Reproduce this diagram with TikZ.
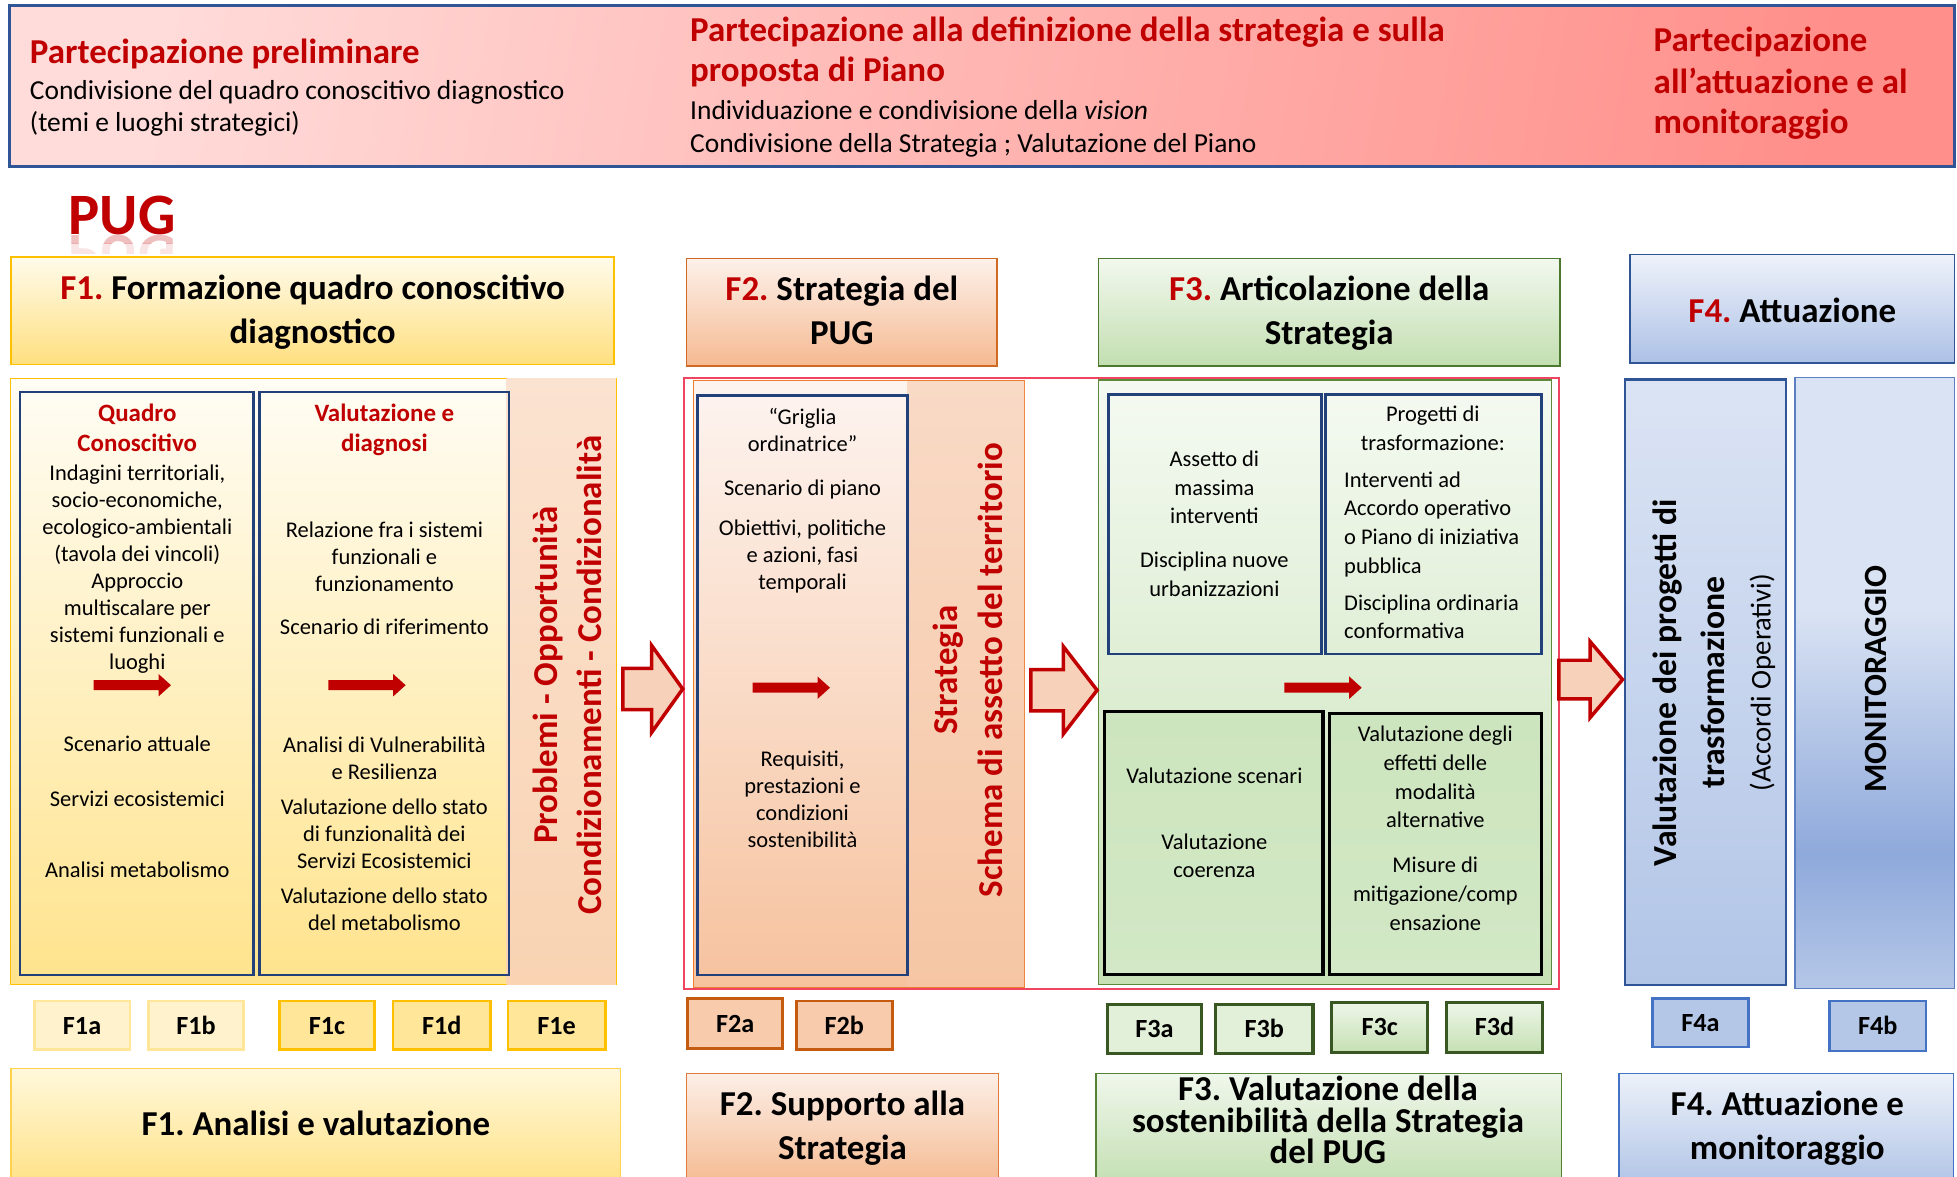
\documentclass[tikz,border=0pt]{standalone}
\usepackage{fontspec}
\setmainfont{Carlito}
\usetikzlibrary{fit}
\definecolor{dred}{HTML}{C00000}
\definecolor{bannerL}{HTML}{FFDCDA}
\definecolor{bannerR}{HTML}{FF8F8A}
\definecolor{bannerB}{HTML}{2F5597}
\definecolor{gold}{HTML}{FFC000}
\definecolor{f1hT}{HTML}{FFFBEB}
\definecolor{f1hB}{HTML}{FFDF7F}
\definecolor{c1T}{HTML}{FFFDF5}
\definecolor{c1B}{HTML}{FFE38C}
\definecolor{s1T}{HTML}{FBE3D1}
\definecolor{s1B}{HTML}{F9D3B2}
\definecolor{dblue}{HTML}{22407A}
\definecolor{h2T}{HTML}{FDF1EA}
\definecolor{h2B}{HTML}{F5BA92}
\definecolor{h2D}{HTML}{D06A22}
\definecolor{c2T}{HTML}{FDF4F0}
\definecolor{c2B}{HTML}{F6C29E}
\definecolor{c2D}{HTML}{ED7D31}
\definecolor{s2T}{HTML}{F9DAC6}
\definecolor{s2B}{HTML}{F6C6A4}
\definecolor{h3T}{HTML}{F2F8EE}
\definecolor{h3B}{HTML}{C3DFB1}
\definecolor{h3D}{HTML}{4B7A2E}
\definecolor{c3T}{HTML}{F5FAF2}
\definecolor{c3B}{HTML}{C7E1B5}
\definecolor{c3D}{HTML}{5A8A3A}
\definecolor{cdT}{HTML}{CDE5BE}
\definecolor{cdB}{HTML}{D2E8C6}
\definecolor{redR}{HTML}{EF4560}
\definecolor{arrfill}{HTML}{F8D1BA}
\definecolor{h4T}{HTML}{EEF2FA}
\definecolor{h4B}{HTML}{ADC1E6}
\definecolor{f4D}{HTML}{2F5597}
\definecolor{f4aT}{HTML}{DBE4F4}
\definecolor{f4aB}{HTML}{B2C5E7}
\definecolor{f4bD}{HTML}{5B7FC2}
\definecolor{m1}{HTML}{DAE3F3}
\definecolor{m2}{HTML}{8EA9DB}
\definecolor{m3}{HTML}{B5C7E8}
\definecolor{l1F}{HTML}{FFF2CC}
\definecolor{l1D}{HTML}{FFE699}
\definecolor{l2F}{HTML}{FFE699}
\definecolor{l3F}{HTML}{F8CBAD}
\definecolor{l3D}{HTML}{C55A11}
\definecolor{l4F}{HTML}{E2F0D9}
\definecolor{l4D}{HTML}{385723}
\definecolor{l4T}{HTML}{EEF6E8}
\definecolor{l4B}{HTML}{C5E0B4}
\definecolor{l5F}{HTML}{B4C7E7}
\definecolor{l5D}{HTML}{4472C4}
\definecolor{b1T}{HTML}{FFF8DB}
\definecolor{b1B}{HTML}{FFE289}
\definecolor{b1D}{HTML}{FFD24D}
\definecolor{b2T}{HTML}{FCEFE7}
\definecolor{b2B}{HTML}{F5BC94}
\definecolor{b2D}{HTML}{E07B39}
\definecolor{b3T}{HTML}{F0F7EC}
\definecolor{b3B}{HTML}{C5E0B4}
\definecolor{b3D}{HTML}{548235}
\definecolor{b4T}{HTML}{EDF1F9}
\definecolor{b4B}{HTML}{B3C6E7}
\definecolor{b4D}{HTML}{4472C4}
\pgfdeclareverticalshading{monshade}{100bp}{color(0bp)=(m3); color(25bp)=(m3); color(36bp)=(m2); color(56bp)=(m1); color(75bp)=(m1); color(100bp)=(m1)}
\begin{document}
\lineskiplimit=-100pt
\frenchspacing
\begin{tikzpicture}[x=1pt,y=-1pt,
  bx/.style={inner sep=0pt, outer sep=0pt},
  sst/.style={execute at begin node=\strut, execute at end node=\strut},
  hdr/.style={bx, sst, font=\fontsize{28}{35}\selectfont\bfseries, align=center},
  hdrs/.style={hdr, yshift=-4pt},
  btitle/.style={bx, font=\fontsize{28}{33}\selectfont\bfseries, text=dred},
  bbody/.style={bx, font=\fontsize{22}{26}\selectfont},
  bt/.style={bx, sst, font=\fontsize{18}{21.6}\selectfont, align=center},
  bt23/.style={bx, sst, font=\fontsize{18}{23}\selectfont, align=center},
  btl/.style={bx, sst, font=\fontsize{18}{23}\selectfont, align=left, anchor=west},
  rtitle/.style={bx, sst, font=\fontsize{20}{24}\selectfont\bfseries, text=dred, align=center},
  vt/.style={bx, sst, font=\fontsize{28}{35}\selectfont\bfseries, text=dred, align=center, rotate=90},
  inbox/.style={bx, draw=dblue, line width=2pt},
  kbox/.style={bx, draw=black, line width=2.5pt, top color=cdT, bottom color=cdB},
  lab/.style={bx, line width=2pt},
  labt/.style={bx, sst, font=\fontsize{21}{25}\selectfont\bfseries, yshift=-2pt},
  blockarr/.style={draw=dred, line width=2.8pt, fill=arrfill, line join=miter},
  pugst/.style={bx, font=\fontsize{47}{50}\selectfont\bfseries, text=dred},
  redarrow/.pic={\fill[dred] (0,-4) -- (52,-4) -- (52,-9) -- (62,0) -- (52,9) -- (52,4) -- (0,4) -- cycle;}
]
\useasboundingbox (0,0) rectangle (1568,943);
\clip (0,0) rectangle (1568,943);

% ---------- top banner ----------
\node[bx, fit={(7.5,4.5)(1566,133.5)}, draw=bannerB, line width=2.5pt, top color=bannerL, bottom color=bannerR, shading angle=80] (banner) {};
\node[btitle, anchor=base west] (bp1) at (24,51) {Partecipazione preliminare};
\node[bbody, anchor=base west] (bp1a) at (24,80) {Condivisione del quadro conoscitivo diagnostico};
\node[bbody, anchor=base west] (bp1b) at (24,105) {(temi e luoghi strategici)};
\node[btitle, anchor=base west] (bp2) at (553,33) {Partecipazione alla definizione della strategia e sulla};
\node[btitle, anchor=base west] (bp2b) at (553,65.5) {proposta di Piano};
\node[bbody, anchor=base west] (bp2c) at (553,96) {Individuazione e condivisione della \textit{vision}};
\node[bbody, anchor=base west] (bp2d) at (553,122) {Condivisione della Strategia ; Valutazione del Piano};
\node[btitle, anchor=base west] (bp3) at (1325,41.5) {Partecipazione};
\node[btitle, anchor=base west] (bp3b) at (1325,75) {all’attuazione e al};
\node[btitle, anchor=base west] (bp3c) at (1325,107) {monitoraggio};

% ---------- PUG ----------
\node[pugst, anchor=base west] (pug) at (55,188) {PUG};
\begin{scope}
\clip (40,188.5) rectangle (160,195);
\node[pugst, yscale=-1, opacity=0.25, anchor=base west] (pugr1) at (55,188.5) {PUG};
\end{scope}
\begin{scope}
\clip (40,195) rectangle (160,203);
\node[pugst, yscale=-1, opacity=0.1, anchor=base west] (pugr2) at (55,188.5) {PUG};
\end{scope}

% ---------- headers ----------
\node[bx, fit={(9,206)(492,292)}, draw=gold, line width=1.5pt, top color=f1hT, bottom color=f1hB] (h1) {};
\node[hdrs] (h1t) at (h1) {\textcolor{dred}{F1.} Formazione quadro conoscitivo\\diagnostico};
\node[bx, fit={(550,207)(799,293)}, draw=h2D, line width=1.3pt, top color=h2T, bottom color=h2B] (h2) {};
\node[hdrs] (h2t) at (h2) {\textcolor{dred}{F2.} Strategia del\\PUG};
\node[bx, fit={(880,207)(1250,293)}, draw=h3D, line width=1.3pt, top color=h3T, bottom color=h3B] (h3) {};
\node[hdrs] (h3t) at (h3) {\textcolor{dred}{F3.} Articolazione della\\Strategia};
\node[bx, fit={(1306,204)(1566,291)}, draw=f4D, line width=1.3pt, top color=h4T, bottom color=h4B] (h4) {};
\node[hdrs] (h4t) at (h4) {\textcolor{dred}{F4.} Attuazione};

% ---------- F1 container ----------
\node[bx, fit={(8.5,303)(494,789)}, draw=gold, line width=1pt, top color=c1T, bottom color=c1B] (c1) {};
\node[bx, fit={(406,303.5)(493.5,788.5)}, top color=s1T, bottom color=s1B] (s1) {};
\node[inbox, fit={(16,314)(203,781)}] (q1) {};
\node[inbox, fit={(208,314)(408,781)}] (q2) {};

\node[rtitle] (q1t) at (110,346) {Quadro\\Conoscitivo};
\node[bt] (q1x) at (110,457.5) {Indagini territoriali,\\socio-economiche,\\ecologico-ambientali\\(tavola dei vincoli)\\Approccio\\multiscalare per\\sistemi funzionali e\\luoghi};
\pic at (75,549) {redarrow};
\node[bt] (q1s) at (110,598) {Scenario attuale};
\node[bt] (q1e) at (110,642) {Servizi ecosistemici};
\node[bt] (q1m) at (110,699) {Analisi metabolismo};

\node[rtitle] (q2t) at (308,346) {Valutazione e\\diagnosi};
\node[bt] (q2a) at (308,449) {Relazione fra i sistemi\\funzionali e\\funzionamento};
\node[bt] (q2b) at (308,504) {Scenario di riferimento};
\pic at (263,549) {redarrow};
\node[bt] (q2c) at (308,611) {Analisi di Vulnerabilità\\e Resilienza};
\node[bt] (q2d) at (308,671) {Valutazione dello stato\\di funzionalità dei\\Servizi Ecosistemici};
\node[bt] (q2e) at (308,731.5) {Valutazione dello stato\\del metabolismo};

\node[vt] (pc) at (460,541) {Problemi - Opportunità\\Condizionamenti - Condizionalità};

% ---------- F2 container ----------
\node[bx, fit={(556,305)(821,791)}, draw=c2D, line width=0.8pt, top color=c2T, bottom color=c2B] (c2) {};
\node[bx, fit={(727,305.5)(820.5,790.5)}, top color=s2T, bottom color=s2B] (s2) {};
\node[inbox, fit={(559,317)(727,781)}] (g1) {};
\node[bt] (g1a) at (643,347.5) {“Griglia\\ordinatrice”};
\node[bt] (g1b) at (643,393) {Scenario di piano};
\node[bt] (g1c) at (643,447.5) {Obiettivi, politiche\\e azioni, fasi\\temporali};
\pic at (603,551) {redarrow};
\node[bt] (g1d) at (643,643.5) {Requisiti,\\prestazioni e\\condizioni\\sostenibilità};
\node[vt, font=\fontsize{28}{36}\selectfont\bfseries] (st) at (780.5,537) {Strategia\\Schema di assetto del territorio};

% ---------- F3 container ----------
\node[bx, fit={(880,304.5)(1243,789)}, draw=c3D, line width=1pt, top color=c3T, bottom color=c3B] (c3) {};
\node[inbox, fit={(888,316)(1059,524)}] (ba) {};
\node[inbox, fit={(1062,316)(1235,524)}] (bb) {};
\node[kbox, fit={(885,570)(1060,781)}] (bc) {};
\node[kbox, fit={(1065,572)(1235,781)}] (bd) {};
\node[bt23] (bat1) at (973,394) {Assetto di\\massima\\interventi};
\node[bt23] (bat2) at (973,463.5) {Disciplina nuove\\urbanizzazioni};
\node[bt23] (bbt1) at (1148,346.5) {Progetti di\\trasformazione:};
\node[btl] (bbt2) at (1077,422) {Interventi ad\\Accordo operativo\\o Piano di iniziativa\\pubblica};
\node[btl] (bbt3) at (1077,497.5) {Disciplina ordinaria\\conformativa};
\pic at (1029,551) {redarrow};
\node[bt23] (bct1) at (973,623) {Valutazione scenari};
\node[bt23] (bct2) at (973,689) {Valutazione\\coerenza};
\node[bt23] (bdt1) at (1150,626) {Valutazione degli\\effetti delle\\modalità\\alternative};
\node[bt23] (bdt2) at (1150,719.5) {Misure di\\mitigazione/comp\\ensazione};

% ---------- red frame around F2-F3 ----------
\node[bx, fit={(548,302.5)(1249,792)}, draw=redR, line width=1.6pt] (rr) {};

% ---------- F4 ----------
\node[bx, fit={(1302,304)(1431,789)}, draw=f4D, line width=2pt, top color=f4aT, bottom color=f4aB] (f4a) {};
\node[bx, fit={(1438,302.5)(1566,792)}, draw=f4bD, line width=1.5pt, shade, shading=monshade] (f4b) {};
\node[bx, sst, rotate=90, font=\fontsize{27}{33}\selectfont\bfseries] (v1) at (1337,547) {Valutazione dei progetti di};
\node[bx, sst, rotate=90, font=\fontsize{27}{33}\selectfont\bfseries] (v2) at (1375,547) {trasformazione};
\node[bx, sst, rotate=90, font=\fontsize{23}{28}\selectfont] (v3) at (1413,547) {(Accordi Operativi)};
\node[bx, sst, rotate=90, font=\fontsize{26}{31}\selectfont\bfseries] (mon) at (1505,544) {MONITORAGGIO};

% ---------- block arrows ----------
\path[blockarr] (499,535.5) -- (522,535.5) -- (522,517) -- (547,552) -- (522,587) -- (522,568.5) -- (499,568.5) -- cycle;
\path[blockarr] (826,536.5) -- (852,536.5) -- (852,518) -- (879,553) -- (852,588) -- (852,569.5) -- (826,569.5) -- cycle;
\path[blockarr] (1249,529) -- (1274,529) -- (1274,514) -- (1300,544.5) -- (1274,575) -- (1274,560) -- (1249,560) -- cycle;

% ---------- labels ----------
\node[lab, fit={(27.5,802)(104,841)}, fill=l1F, draw=l1D] (f1a) {};
\node[labt] at (f1a) {F1a};
\node[lab, fit={(119,802)(195,841)}, fill=l1F, draw=l1D] (f1b) {};
\node[labt] at (f1b) {F1b};
\node[lab, fit={(224,802)(300,841)}, fill=l2F, draw=gold] (f1c) {};
\node[labt] at (f1c) {F1c};
\node[lab, fit={(315,802)(393,841)}, fill=l2F, draw=gold] (f1d) {};
\node[labt] at (f1d) {F1d};
\node[lab, fit={(407,802)(485,841)}, fill=l2F, draw=gold] (f1e) {};
\node[labt] at (f1e) {F1e};
\node[lab, fit={(551,800)(627,840)}, fill=l3F, draw=l3D] (f2a) {};
\node[labt] at (f2a) {F2a};
\node[lab, fit={(638,802)(715,841)}, fill=l3F, draw=l3D] (f2b) {};
\node[labt] at (f2b) {F2b};
\node[lab, fit={(887,805)(963,844)}, fill=l4F, draw=l4D, line width=2.5pt] (f3a) {};
\node[labt] at (f3a) {F3a};
\node[lab, fit={(974,805)(1052,844)}, fill=l4F, draw=l4D, line width=2.5pt] (f3b) {};
\node[labt] at (f3b) {F3b};
\node[lab, fit={(1067,803)(1144,843)}, top color=l4T, bottom color=l4B, draw=l4D, line width=2.5pt] (f3c) {};
\node[labt] at (f3c) {F3c};
\node[lab, fit={(1159,803)(1236,843)}, top color=l4T, bottom color=l4B, draw=l4D, line width=2.5pt] (f3d) {};
\node[labt] at (f3d) {F3d};
\node[lab, fit={(1324,800)(1401,839)}, fill=l5F, draw=l5D] (f4la) {};
\node[labt] at (f4la) {F4a};
\node[lab, fit={(1466,802)(1543,842)}, fill=l5F, draw=l5D] (f4lb) {};
\node[labt] at (f4lb) {F4b};

% ---------- bottom boxes ----------
\node[bx, fit={(9,856)(497,946)}, draw=b1D, line width=1.2pt, top color=b1T, bottom color=b1B] (bb1) {};
\node[hdr] (bb1t) at (253,903) {F1. Analisi e valutazione};
\node[bx, fit={(550,860)(800,946)}, draw=b2D, line width=1.2pt, top color=b2T, bottom color=b2B] (bb2) {};
\node[hdr] (bb2t) at (675,907) {F2. Supporto alla\\Strategia};
\node[bx, fit={(878,860)(1251,946)}, draw=b3D, line width=1.2pt, top color=b3T, bottom color=b3B] (bb3) {};
\node[hdr, font=\fontsize{28}{25.5}\selectfont\bfseries] (bb3t) at (1064,901) {F3. Valutazione della\\sostenibilità della Strategia\\del PUG};
\node[bx, fit={(1297,860)(1565,946)}, draw=b4D, line width=1.2pt, top color=b4T, bottom color=b4B] (bb4) {};
\node[hdr] (bb4t) at (1432,907) {F4. Attuazione e\\monitoraggio};
\end{tikzpicture}
\end{document}
